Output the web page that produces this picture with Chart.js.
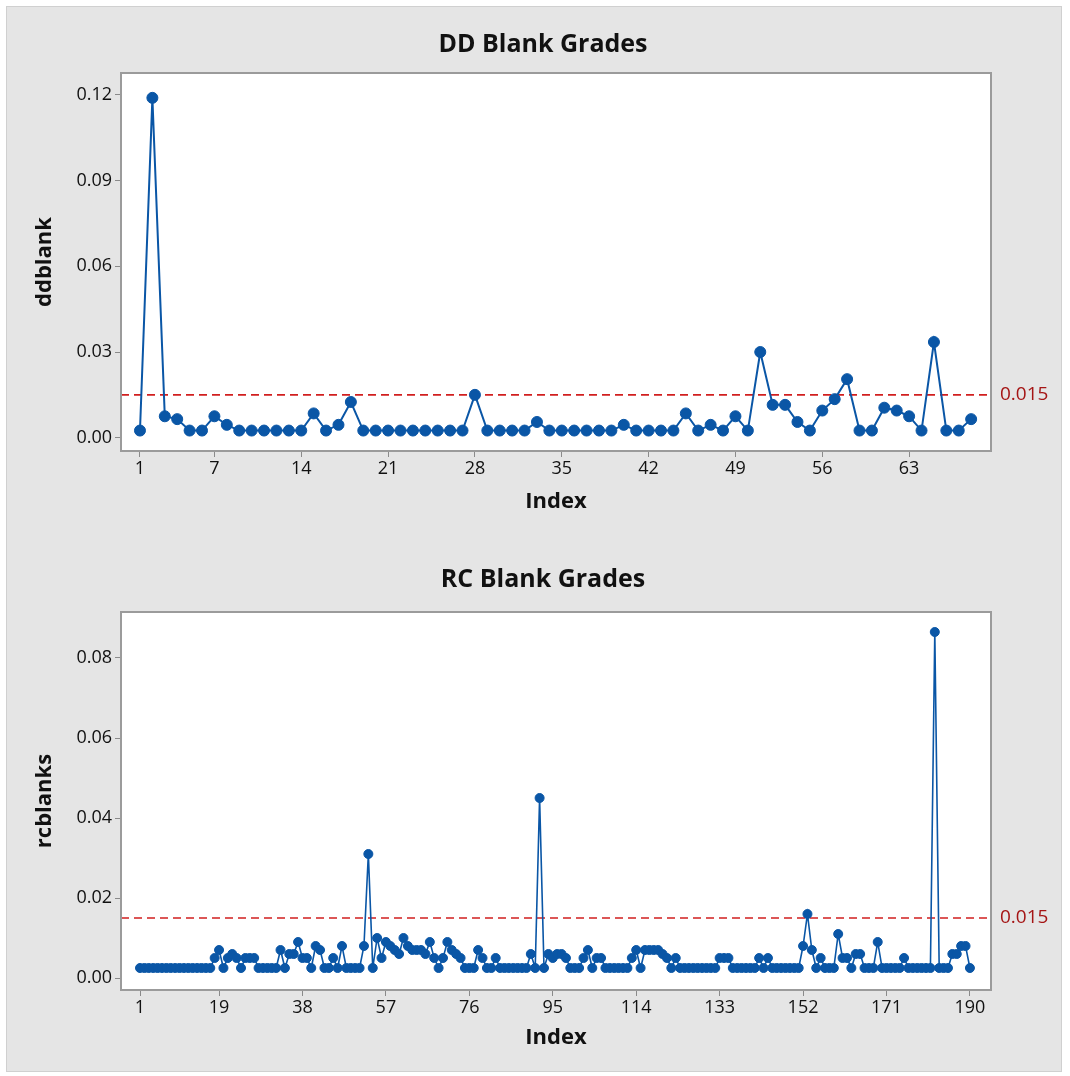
<!DOCTYPE html>
<html>
<head>
<meta charset="utf-8">
<title>Blank Grades</title>
<script src="https://cdn.jsdelivr.net/npm/chart.js@4/dist/chart.umd.min.js"></script>
<style>
  html, body { margin: 0; padding: 0; background: #ffffff; }
  #page { position: relative; width: 1070px; height: 1076px; overflow: hidden; }
  #panel { position: absolute; left: 6px; top: 6px; width: 1054px; height: 1064px;
           background: #e5e5e5; border: 1px solid #d0d0d0; }
  canvas { position: absolute; left: 0; }
  #ddChart { top: 0; }
  #rcChart { top: 538px; }
</style>
</head>
<body>
<div id="page">
  <div id="panel"></div>
  <canvas id="ddChart" width="1070" height="538" style="width:1070px;height:538px"></canvas>
  <canvas id="rcChart" width="1070" height="538" style="width:1070px;height:538px"></canvas>
</div>
<script>
// ---- data ----
const ddIndexTicks = [1, 7, 14, 21, 28, 35, 42, 49, 56, 63];
const rcIndexTicks = [1, 19, 38, 57, 76, 95, 114, 133, 152, 171, 190];
const ddValueTicks = [0, 0.03, 0.06, 0.09, 0.12];
const rcValueTicks = [0, 0.02, 0.04, 0.06, 0.08];
const limitValue = 0.015;

const ddblank = [
  0.0025, 0.119, 0.0075, 0.0065, 0.0025, 0.0025, 0.0075, 0.0045, 0.0025, 0.0025,
  0.0025, 0.0025, 0.0025, 0.0025, 0.0085, 0.0025, 0.0045, 0.0125, 0.0025, 0.0025,
  0.0025, 0.0025, 0.0025, 0.0025, 0.0025, 0.0025, 0.0025, 0.015, 0.0025, 0.0025,
  0.0025, 0.0025, 0.0055, 0.0025, 0.0025, 0.0025, 0.0025, 0.0025, 0.0025, 0.0045,
  0.0025, 0.0025, 0.0025, 0.0025, 0.0085, 0.0025, 0.0045, 0.0025, 0.0075, 0.0025,
  0.030, 0.0115, 0.0115, 0.0055, 0.0025, 0.0095, 0.0135, 0.0205, 0.0025, 0.0025,
  0.0105, 0.0095, 0.0075, 0.0025, 0.0335, 0.0025, 0.0025, 0.0065
];

const rcblanks = [
  0.0025, 0.0025, 0.0025, 0.0025, 0.0025, 0.0025, 0.0025, 0.0025, 0.0025, 0.0025,
  0.0025, 0.0025, 0.0025, 0.0025, 0.0025, 0.0025, 0.0025, 0.005, 0.007, 0.0025,
  0.005, 0.006, 0.005, 0.0025, 0.005, 0.005, 0.005, 0.0025, 0.0025, 0.0025,
  0.0025, 0.0025, 0.007, 0.0025, 0.006, 0.006, 0.009, 0.005, 0.005, 0.0025,
  0.008, 0.007, 0.0025, 0.0025, 0.005, 0.0025, 0.008, 0.0025, 0.0025, 0.0025,
  0.0025, 0.008, 0.031, 0.0025, 0.010, 0.005, 0.009, 0.008, 0.007, 0.006,
  0.010, 0.008, 0.007, 0.007, 0.007, 0.006, 0.009, 0.005, 0.0025, 0.005,
  0.009, 0.007, 0.006, 0.005, 0.0025, 0.0025, 0.0025, 0.007, 0.005, 0.0025,
  0.0025, 0.005, 0.0025, 0.0025, 0.0025, 0.0025, 0.0025, 0.0025, 0.0025, 0.006,
  0.0025, 0.045, 0.0025, 0.006, 0.005, 0.006, 0.006, 0.005, 0.0025, 0.0025,
  0.0025, 0.005, 0.007, 0.0025, 0.005, 0.005, 0.0025, 0.0025, 0.0025, 0.0025,
  0.0025, 0.0025, 0.005, 0.007, 0.0025, 0.007, 0.007, 0.007, 0.007, 0.006,
  0.005, 0.0025, 0.005, 0.0025, 0.0025, 0.0025, 0.0025, 0.0025, 0.0025, 0.0025,
  0.0025, 0.0025, 0.005, 0.005, 0.005, 0.0025, 0.0025, 0.0025, 0.0025, 0.0025,
  0.0025, 0.005, 0.0025, 0.005, 0.0025, 0.0025, 0.0025, 0.0025, 0.0025, 0.0025,
  0.0025, 0.008, 0.016, 0.007, 0.0025, 0.005, 0.0025, 0.0025, 0.0025, 0.011,
  0.005, 0.005, 0.0025, 0.006, 0.006, 0.0025, 0.0025, 0.0025, 0.009, 0.0025,
  0.0025, 0.0025, 0.0025, 0.0025, 0.005, 0.0025, 0.0025, 0.0025, 0.0025, 0.0025,
  0.0025, 0.0865, 0.0025, 0.0025, 0.0025, 0.006, 0.006, 0.008, 0.008, 0.0025
];

// ---- styling ----
const FONT = "'Open Sans', 'Noto Sans', 'DejaVu Sans', sans-serif";
const BLUE = '#0a56a6';
const LIMIT_RED = '#d11f1f';
const LIMIT_TEXT = '#a51515';
Chart.defaults.font.family = FONT;
Chart.defaults.color = '#111111';

// white plot area, limit line, frame and chart title
const panelDecor = {
  id: 'panelDecor',
  beforeDraw(chart) {
    const { ctx, chartArea: a } = chart;
    ctx.save();
    ctx.fillStyle = '#ffffff';
    ctx.fillRect(a.left, a.top, a.right - a.left, a.bottom - a.top);
    ctx.restore();
  },
  beforeDatasetsDraw(chart, args, opts) {
    const { ctx, chartArea: a } = chart;
    const y = chart.scales.y.getPixelForValue(opts.limit);
    ctx.save();
    ctx.strokeStyle = LIMIT_RED;
    ctx.lineWidth = 1.6;
    ctx.setLineDash([8, 5]);
    ctx.beginPath();
    ctx.moveTo(a.left, y);
    ctx.lineTo(a.right, y);
    ctx.stroke();
    ctx.restore();
  },
  afterDraw(chart, args, opts) {
    const { ctx, chartArea: a } = chart;
    ctx.save();
    // frame
    ctx.strokeStyle = '#9b9b9b';
    ctx.lineWidth = 2;
    ctx.strokeRect(a.left, a.top, a.right - a.left, a.bottom - a.top);
    // limit label
    const y = chart.scales.y.getPixelForValue(opts.limit);
    ctx.fillStyle = LIMIT_TEXT;
    ctx.font = '19px ' + FONT;
    ctx.textAlign = 'left';
    ctx.textBaseline = 'middle';
    ctx.fillText(String(opts.limit), a.right + 9, y);
    // chart title
    ctx.fillStyle = '#111111';
    ctx.font = 'bold 25px ' + FONT;
    ctx.textAlign = 'center';
    ctx.fillText(opts.title, opts.titleX, opts.titleY);
    ctx.restore();
  }
};

function buildChart(canvasId, cfg) {
  const points = cfg.values.map((v, i) => ({ x: i + 1, y: v }));
  return new Chart(document.getElementById(canvasId), {
    type: 'line',
    data: {
      datasets: [{
        data: points,
        borderColor: BLUE,
        backgroundColor: BLUE,
        borderWidth: cfg.lineWidth,
        pointRadius: cfg.pointRadius,
        pointHoverRadius: cfg.pointRadius,
        pointBackgroundColor: BLUE,
        pointBorderColor: BLUE,
        pointBorderWidth: 1,
        tension: 0,
        clip: false
      }]
    },
    options: {
      responsive: false,
      animation: false,
      events: [],
      layout: { padding: { top: cfg.plotTop, right: 79, bottom: 0, left: 0 } },
      plugins: {
        legend: { display: false },
        tooltip: { enabled: false },
        panelDecor: { limit: limitValue, title: cfg.title, titleX: 543, titleY: cfg.titleY }
      },
      scales: {
        x: {
          type: 'linear',
          min: cfg.xMin,
          max: cfg.xMax,
          afterFit(scale) { scale.height = cfg.xAxisHeight; },
          afterBuildTicks(scale) { scale.ticks = cfg.xTicks.map(v => ({ value: v })); },
          ticks: { font: { size: 18 }, color: '#111111', padding: 1, maxRotation: 0, autoSkip: false },
          grid: { drawOnChartArea: false, drawTicks: true, tickLength: 6, tickColor: '#8a8a8a', lineWidth: 1 },
          border: { display: false },
          title: { display: true, text: 'Index', color: '#111111',
                   font: { size: 22, weight: 'bold' }, padding: { top: 0, bottom: cfg.xTitlePad } }
        },
        y: {
          type: 'linear',
          min: cfg.yMin,
          max: cfg.yMax,
          afterFit(scale) { scale.width = 121; },
          afterBuildTicks(scale) { scale.ticks = cfg.yTicks.map(v => ({ value: v })); },
          ticks: { font: { size: 18 }, color: '#111111', padding: 3,
                   callback: v => Number(v).toFixed(2) },
          grid: { drawOnChartArea: false, drawTicks: true, tickLength: 6, tickColor: '#8a8a8a', lineWidth: 1 },
          border: { display: false },
          title: { display: true, text: cfg.yTitle, color: '#111111',
                   font: { size: 22, weight: 'bold' }, padding: { top: 32, bottom: 0 } }
        }
      }
    },
    plugins: [panelDecor]
  });
}

buildChart('ddChart', {
  title: 'DD Blank Grades', titleY: 45,
  yTitle: 'ddblank',
  values: ddblank,
  xTicks: ddIndexTicks, yTicks: ddValueTicks,
  xMin: -0.53, xMax: 69.6,
  yMin: -0.00466, yMax: 0.1277,
  plotTop: 73, xAxisHeight: 87, xTitlePad: 23,
  pointRadius: 5.5, lineWidth: 2
});

buildChart('rcChart', {
  title: 'RC Blank Grades', titleY: 42,
  yTitle: 'rcblanks',
  values: rcblanks,
  xTicks: rcIndexTicks, yTicks: rcValueTicks,
  xMin: -3.33, xMax: 194.8,
  yMin: -0.003, yMax: 0.0915,
  plotTop: 74, xAxisHeight: 86, xTitlePad: 25,
  pointRadius: 4.5, lineWidth: 1.6
});
</script>
</body>
</html>
